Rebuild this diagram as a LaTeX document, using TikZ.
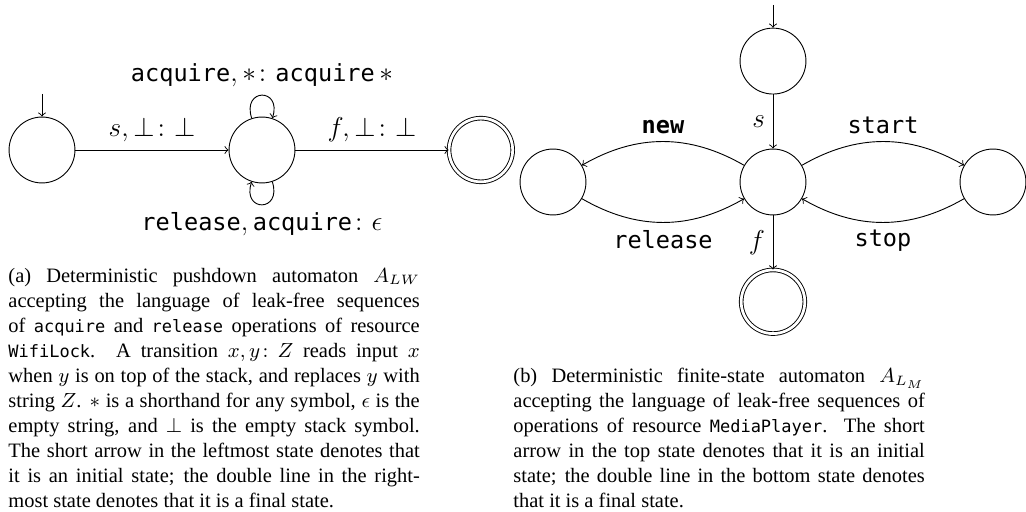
\documentclass[tikz,border=0pt]{standalone}
\usepackage{amsmath,amssymb}
\usepackage{fontspec}
\setmainfont{Liberation Serif}
\setmonofont{DejaVu Sans Mono}[Scale=0.83]
\usepackage{tikz}
\usetikzlibrary{positioning}

\begin{document}
\begin{tikzpicture}[
  x=0.44pt, y=0.44pt,
  node distance=23.8pt and 67.4pt,
  state/.style={draw, circle, minimum size=29pt, inner sep=0pt},
  final/.style={draw, circle, minimum size=28pt, inner sep=0pt, double, double distance=1.2pt},
  arr/.style={->},
  lbl/.style={font=\fontsize{12.5}{15}\selectfont},
  capt/.style={anchor=north west, inner sep=0pt, text width=181pt, align=justify, font=\fontsize{9}{11}\selectfont}
]
\useasboundingbox (0,0) rectangle (1026,512);

% (a) pushdown automaton for WifiLock
\node[state] (q0) at (42,362) {};
\node[state, right=of q0] (q1) {};
\node[final, right=of q1] (q2) {};
\coordinate[above=10pt of q0] (in0);
\draw[arr] (in0) -- (q0);
\draw[arr] (q0) -- node[above, lbl] {$s, \bot\colon \bot$} (q1);
\draw[arr] (q1) -- node[above, lbl] {$f, \bot\colon \bot$} (q2);
\draw[arr] (q1) to[out=108, in=72, looseness=4, min distance=0pt]
  node[above, lbl] {$\texttt{acquire}, *\colon \texttt{acquire}\,*$} (q1);
\draw[arr] (q1) to[out=-72, in=-108, looseness=4, min distance=0pt]
  node[below, lbl] {$\texttt{release}, \texttt{acquire}\colon \epsilon$} (q1);

\node[capt] (capa) at (8,244) {(a) Deterministic pushdown automaton $A_{LW}$\linebreak
accepting the language of leak-free sequences\linebreak
of \texttt{acquire} and \texttt{release} operations of resource\linebreak
\texttt{WifiLock}. A transition $x, y\colon Z$ reads input $x$\linebreak
when $y$ is on top of the stack, and replaces $y$ with\linebreak
string $Z$. $*$ is a shorthand for any symbol, $\epsilon$ is the\linebreak
empty string, and $\bot$ is the empty stack symbol.\linebreak
The short arrow in the leftmost state denotes that\linebreak
it is an initial state; the double line in the right-\linebreak
most state denotes that it is a final state.};

% (b) finite-state automaton for MediaPlayer
\node[state] (m) at (773,330) {};
\node[state, above=of m] (top) {};
\node[state, left=of m] (lft) {};
\node[state, right=of m] (rgt) {};
\node[final, below=of m] (bot) {};
\coordinate[above=10pt of top] (in1);
\draw[arr] (in1) -- (top);
\draw[arr] (top) -- node[left, lbl] {$s$} (m);
\draw[arr] (m) -- node[left, lbl] {$f$} (bot);
\draw[arr] (m) to[bend right=30] node[above, lbl] {\textbf{\texttt{new}}} (lft);
\draw[arr] (lft) to[bend right=30] node[below, lbl] {\texttt{release}} (m);
\draw[arr] (m) to[bend left=30] node[above, lbl] {\texttt{start}} (rgt);
\draw[arr] (rgt) to[bend left=30] node[below, lbl] {\texttt{stop}} (m);

\node[capt] (capb) at (513,144) {(b) Deterministic finite-state automaton $A_{L_M}$\linebreak
accepting the language of leak-free sequences of\linebreak
operations of resource \texttt{MediaPlayer}. The short\linebreak
arrow in the top state denotes that it is an initial\linebreak
state; the double line in the bottom state denotes\linebreak
that it is a final state.};
\end{tikzpicture}
\end{document}
